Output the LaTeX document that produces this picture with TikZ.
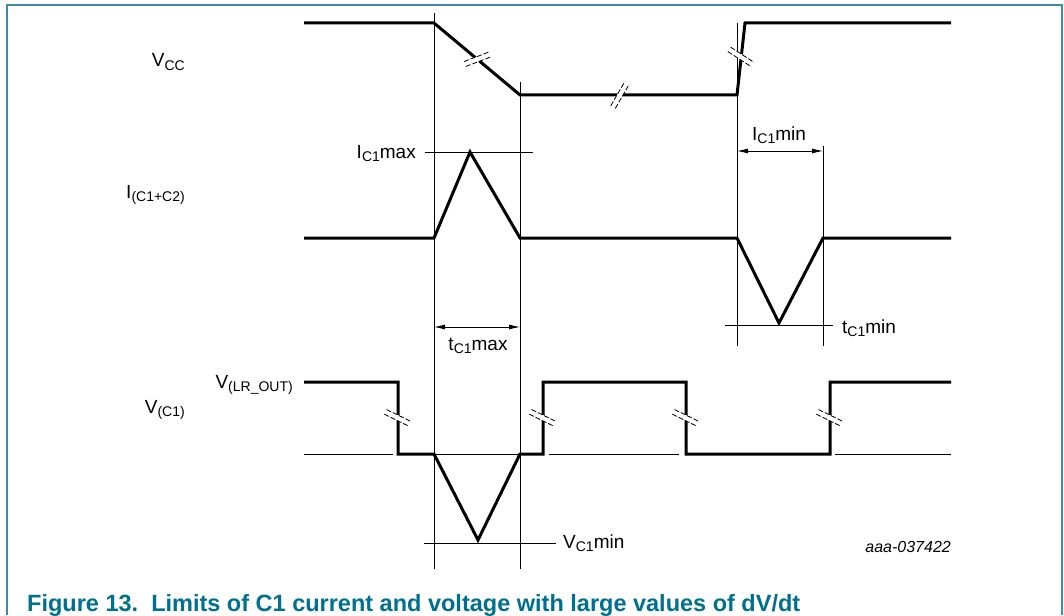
\documentclass[tikz,border=0pt]{standalone}
\usepackage{fontspec}
\setmainfont{Liberation Sans}
\usetikzlibrary{arrows.meta,positioning}
\definecolor{nxpteal}{RGB}{0,112,143}
\definecolor{framec}{RGB}{62,140,165}
% lowered subscript in text
\newcommand\lo[1]{\raisebox{-3.5pt}{\fontsize{14}{14}\selectfont #1}}
% break mark: x, y, angle
\newcommand\brk[3]{%
  \begin{scope}[shift={(#1,#2)},rotate=#3]
    \fill[white] (-14,-2.6) rectangle (14,2.6);
    \draw[brkline] (-14,-2.6) -- (14,-2.6) (-14,2.6) -- (14,2.6);
  \end{scope}}

\begin{document}
\begin{tikzpicture}[x=1pt,y=-1pt,
    wave/.style={line width=3pt},
    guide/.style={line width=0.9pt},
    brkline/.style={line width=0.8pt,dash pattern=on 5pt off 2pt},
    dim/.style={guide,{Latex[length=11pt,width=5pt]}-{Latex[length=11pt,width=5pt]}},
    lbl/.style={inner sep=0pt,font=\fontsize{19}{19}\selectfont}]
    \useasboundingbox (0,0) rectangle (1064,615);
    \draw[framec,line width=2pt] (7,615) -- (7,5) -- (1062,5) -- (1062,615);

    % guides
    \draw[guide] (434,13) -- (434,569);
    \draw[guide] (520,82) -- (520,569);
    \draw[guide] (737,23) -- (737,346);
    \draw[guide] (823,146) -- (823,346);
    \draw[guide] (425,152) -- (533,152);
    \draw[guide] (725,325) -- (833,325);
    \draw[guide] (424,543) -- (556,543);
    \foreach \a/\b in {304/393,434/520,549/679,835/951}
        \draw[guide] (\a,454) -- (\b,454);

    % dimension arrows
    \coordinate (ta) at (434,327);
    \coordinate (tb) at (520,327);
    \coordinate (tc) at (737,151);
    \coordinate (te) at (823,151);
    \draw[dim] (ta) -- (tb);
    \draw[dim] (tc) -- (te);

    % waveforms
    \draw[wave] (304,23) -- (434,23) -- (520,95) -- (737,95) -- (745,23) -- (951,23);
    \draw[wave] (304,238) -- (434,238) -- (470,152) -- (520,238) -- (737,238)
        -- (779,323) -- (823,238) -- (951,238);
    \draw[wave] (304,382) -- (398,382) -- (398,454) -- (434,454) -- (478,540)
        -- (520,454) -- (543,454) -- (543,382) -- (686,382) -- (686,454)
        -- (830,454) -- (830,382) -- (951,382);

    % breaks
    \brk{478}{59}{21}
    \brk{620}{95}{60}
    \brk{741}{57}{-33}
    \foreach \x in {398,543,686,830}{\brk{\x}{418}{-26}}

    % labels
    \node[lbl,anchor=base east] (vcc) at (185,67) {V\lo{CC}};
    \node[lbl,anchor=base east] (icc) at (185,198) {I\lo{(C1+C2)}};
    \node[lbl,anchor=base east] (vlr) at (293,388) {V\lo{(LR\_OUT)}};
    \node[lbl,anchor=base east] (vc1) at (185,413) {V\lo{(C1)}};
    \node[lbl,anchor=base east] (imax) at (416,158) {I\lo{C1}max};
    \node[lbl,anchor=base] (tmax) at (478,350) {t\lo{C1}max};
    \node[lbl,anchor=base] (imin) at (779,140) {I\lo{C1}min};
    \node[lbl,anchor=base west] (tmin) at (842,333) {t\lo{C1}min};
    \node[lbl,anchor=base west] (vmin) at (563,548) {V\lo{C1}min};
    \node[inner sep=0pt,anchor=base east,font=\fontsize{16}{16}\selectfont\itshape] (code) at (951,552) {aaa-037422};
    \node[inner sep=0pt,anchor=base west,text=nxpteal,font=\fontsize{23.5}{23.5}\selectfont\bfseries] (cap) at (27,611)
        {Figure 13.\ \ Limits of C1 current and voltage with large values of dV/dt};
\end{tikzpicture}
\end{document}
